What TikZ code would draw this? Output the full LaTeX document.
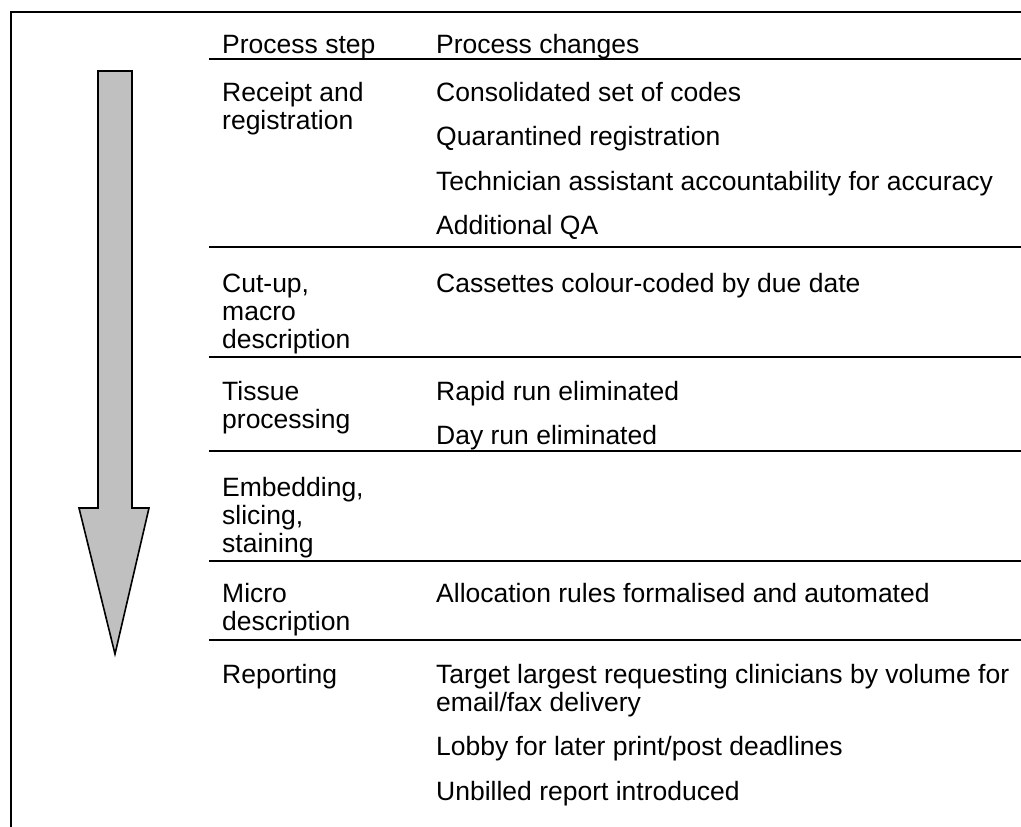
\documentclass[tikz,border=0pt]{standalone}
\usepackage{fontspec}
\setmainfont{Liberation Sans}
\begin{document}
\begin{tikzpicture}[x=1pt,y=-1pt,
  txt/.style={anchor=base west,inner sep=0pt,font=\fontsize{26.5}{28}\selectfont},
  rowrule/.style={line width=2pt},
  frame/.style={line width=2pt},
  flowarrow/.style={draw=black,line width=1.6pt,fill={rgb,255:red,192;green,192;blue,192},line join=miter}
]
\useasboundingbox (0,0) rectangle (1021,827);

% outer frame (top and left edges)
\draw[frame] (11,827) -- (11,12) -- (1021,12);

% downward block arrow
\draw[flowarrow] (98,71) -- (132,71) -- (132,508) -- (149,508) -- (115,654)
  -- (79,508) -- (98,508) -- cycle;

% column headings
\node[txt] (hstep) at (222,53) {Process step};
\node[txt] (hchg)  at (436,53) {Process changes};

% horizontal rules between rows
\foreach \y in {59,247,357,451,561,640}
  \draw[rowrule] (209,\y) -- (1021,\y);

% Receipt and registration
\node[txt] (s1a) at (222,101) {Receipt and};
\node[txt] (s1b) at (222,129) {registration};
\node[txt] (c1a) at (436,101) {Consolidated set of codes};
\node[txt] (c1b) at (436,145.5) {Quarantined registration};
\node[txt] (c1c) at (436,190) {Technician assistant accountability for accuracy};
\node[txt] (c1d) at (436,234.5) {Additional QA};

% Cut-up, macro description
\node[txt] (s2a) at (222,292) {Cut-up,};
\node[txt] (s2b) at (222,320) {macro};
\node[txt] (s2c) at (222,348) {description};
\node[txt] (c2a) at (436,292) {Cassettes colour-coded by due date};

% Tissue processing
\node[txt] (s3a) at (222,400) {Tissue};
\node[txt] (s3b) at (222,428) {processing};
\node[txt] (c3a) at (436,400) {Rapid run eliminated};
\node[txt] (c3b) at (436,444.5) {Day run eliminated};

% Embedding, slicing, staining
\node[txt] (s4a) at (222,496.5) {Embedding,};
\node[txt] (s4b) at (222,524.5) {slicing,};
\node[txt] (s4c) at (222,552.5) {staining};

% Micro description
\node[txt] (s5a) at (222,602) {Micro};
\node[txt] (s5b) at (222,630) {description};
\node[txt] (c5a) at (436,602) {Allocation rules formalised and automated};

% Reporting
\node[txt] (s6a) at (222,683) {Reporting};
\node[txt] (c6a) at (436,683) {Target largest requesting clinicians by volume for};
\node[txt] (c6b) at (436,711) {email/fax delivery};
\node[txt] (c6c) at (436,755.5) {Lobby for later print/post deadlines};
\node[txt] (c6d) at (436,800) {Unbilled report introduced};
\end{tikzpicture}
\end{document}
